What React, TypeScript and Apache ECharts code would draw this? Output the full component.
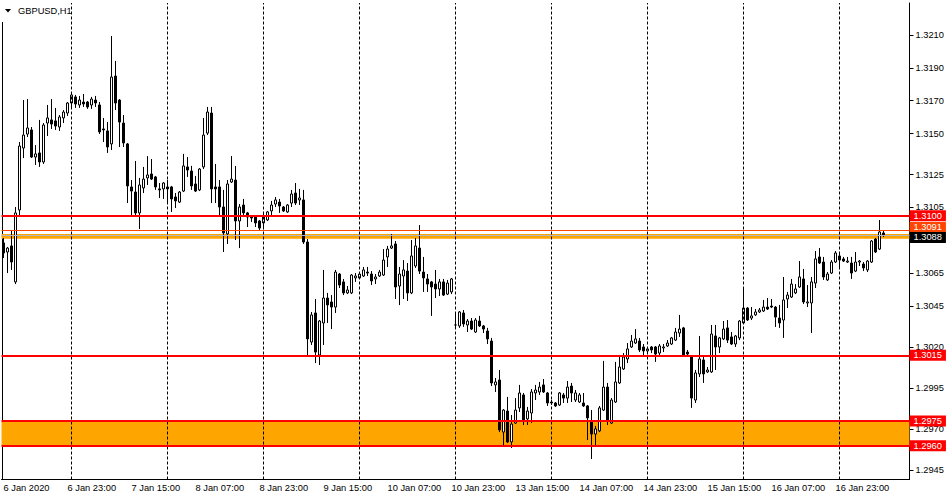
import React, { useEffect, useRef } from "react";
import * as echarts from "echarts";

// [open, close, low, high] per H1 bar, starting 6 Jan 2020 07:00
const candles: number[][] = [
  [1.30834, 1.30773, 1.30743, 1.30864],
  [1.30779, 1.30803, 1.30651, 1.3081],
  [1.30816, 1.30718, 1.3067, 1.30913],
  [1.30597, 1.31017, 1.30584, 1.31053],
  [1.31035, 1.31424, 1.31004, 1.31449],
  [1.31412, 1.31491, 1.31351, 1.31704],
  [1.31497, 1.31534, 1.31479, 1.3171],
  [1.31522, 1.31357, 1.31351, 1.3154],
  [1.31357, 1.31376, 1.31309, 1.3143],
  [1.31382, 1.31327, 1.31297, 1.31583],
  [1.31327, 1.31552, 1.31315, 1.31564],
  [1.31564, 1.31595, 1.31485, 1.31674],
  [1.31583, 1.31558, 1.31528, 1.3171],
  [1.31577, 1.31546, 1.31522, 1.31656],
  [1.3154, 1.31601, 1.31516, 1.31613],
  [1.31595, 1.31631, 1.31564, 1.31643],
  [1.31625, 1.31686, 1.31607, 1.31692],
  [1.31686, 1.31735, 1.31656, 1.31753],
  [1.31723, 1.3168, 1.31656, 1.31735],
  [1.31674, 1.31704, 1.31656, 1.31729],
  [1.31692, 1.3168, 1.31662, 1.31741],
  [1.31692, 1.31662, 1.3165, 1.31698],
  [1.31674, 1.3171, 1.3165, 1.31723],
  [1.31704, 1.31686, 1.31662, 1.31729],
  [1.31674, 1.3151, 1.31497, 1.31692],
  [1.31528, 1.31522, 1.31449, 1.31595],
  [1.31516, 1.31418, 1.31382, 1.3157],
  [1.31437, 1.31844, 1.314, 1.32094],
  [1.3185, 1.31686, 1.31643, 1.31942],
  [1.31704, 1.3157, 1.31418, 1.3171],
  [1.31564, 1.31443, 1.31418, 1.31613],
  [1.31437, 1.31181, 1.31077, 1.31443],
  [1.31175, 1.3115, 1.31004, 1.31217],
  [1.31144, 1.31017, 1.30998, 1.31333],
  [1.31017, 1.31187, 1.30919, 1.3123],
  [1.31169, 1.31223, 1.31138, 1.31297],
  [1.3123, 1.31248, 1.31187, 1.31363],
  [1.31254, 1.31223, 1.31217, 1.31345],
  [1.31236, 1.31175, 1.31157, 1.31242],
  [1.31163, 1.31157, 1.31108, 1.31199],
  [1.31163, 1.31199, 1.31102, 1.31205],
  [1.31175, 1.31163, 1.31077, 1.31217],
  [1.31175, 1.31102, 1.31023, 1.31181],
  [1.31114, 1.3109, 1.31047, 1.31138],
  [1.31083, 1.31144, 1.31077, 1.3115],
  [1.3115, 1.31303, 1.31144, 1.31376],
  [1.31297, 1.31278, 1.31236, 1.31357],
  [1.31272, 1.31181, 1.31157, 1.31303],
  [1.31193, 1.3115, 1.31144, 1.31242],
  [1.31157, 1.31284, 1.3115, 1.3129],
  [1.31297, 1.31491, 1.31284, 1.31595],
  [1.31503, 1.31631, 1.31491, 1.31662],
  [1.31625, 1.31163, 1.31077, 1.31662],
  [1.31175, 1.31163, 1.31077, 1.31315],
  [1.31175, 1.31053, 1.30998, 1.31217],
  [1.31053, 1.30895, 1.30779, 1.31157],
  [1.30889, 1.31193, 1.30828, 1.31217],
  [1.31205, 1.31223, 1.31199, 1.31363],
  [1.31217, 1.30968, 1.30852, 1.31303],
  [1.30968, 1.31053, 1.30803, 1.31071],
  [1.31065, 1.31017, 1.30992, 1.31102],
  [1.31017, 1.30992, 1.30931, 1.31023],
  [1.30998, 1.30986, 1.30962, 1.31004],
  [1.30998, 1.30956, 1.30931, 1.31004],
  [1.30968, 1.30925, 1.30907, 1.30974],
  [1.30956, 1.30992, 1.30931, 1.31023],
  [1.30974, 1.31023, 1.30968, 1.31029],
  [1.31029, 1.31065, 1.31004, 1.3109],
  [1.31071, 1.31096, 1.31053, 1.31114],
  [1.31083, 1.31059, 1.31017, 1.31102],
  [1.31053, 1.31029, 1.31023, 1.31059],
  [1.31023, 1.31065, 1.31017, 1.31071],
  [1.31077, 1.31132, 1.31053, 1.31157],
  [1.31138, 1.31077, 1.31065, 1.31199],
  [1.31096, 1.31108, 1.31065, 1.31163],
  [1.31096, 1.3084, 1.30828, 1.31157],
  [1.3084, 1.3025, 1.30152, 1.30858],
  [1.30231, 1.30396, 1.30213, 1.30414],
  [1.30408, 1.3017, 1.30103, 1.30493],
  [1.30152, 1.30359, 1.30091, 1.30365],
  [1.30347, 1.30499, 1.30213, 1.3067],
  [1.30499, 1.30457, 1.30347, 1.3053],
  [1.30475, 1.30444, 1.3031, 1.30517],
  [1.30444, 1.30657, 1.30408, 1.3067],
  [1.30645, 1.30578, 1.3056, 1.30651],
  [1.30597, 1.3053, 1.30517, 1.30615],
  [1.3053, 1.30548, 1.30523, 1.30572],
  [1.3053, 1.30639, 1.30523, 1.30645],
  [1.30621, 1.30633, 1.30597, 1.30651],
  [1.30621, 1.30645, 1.30615, 1.30657],
  [1.30633, 1.3067, 1.30627, 1.30688],
  [1.30657, 1.30651, 1.30633, 1.30688],
  [1.30645, 1.30603, 1.30578, 1.30663],
  [1.30615, 1.30627, 1.30584, 1.30645],
  [1.30633, 1.30657, 1.30627, 1.3067],
  [1.30639, 1.3073, 1.30633, 1.30797],
  [1.30749, 1.30797, 1.30688, 1.30816],
  [1.30803, 1.30816, 1.30797, 1.30889],
  [1.30828, 1.30566, 1.30493, 1.30846],
  [1.30572, 1.30645, 1.30456, 1.30688],
  [1.30633, 1.3067, 1.30493, 1.3073],
  [1.30663, 1.3053, 1.30481, 1.30712],
  [1.3053, 1.30755, 1.30523, 1.30852],
  [1.30694, 1.30816, 1.30682, 1.30864],
  [1.30803, 1.30663, 1.30645, 1.30943],
  [1.30657, 1.30621, 1.30536, 1.30749],
  [1.30615, 1.30584, 1.30536, 1.30645],
  [1.30597, 1.30566, 1.3039, 1.30603],
  [1.30584, 1.30554, 1.30499, 1.3067],
  [1.30554, 1.30597, 1.30511, 1.30615],
  [1.30597, 1.30517, 1.30511, 1.30615],
  [1.30523, 1.3059, 1.30517, 1.30609],
  [1.30536, 1.30615, 1.30523, 1.30621],
  [1.30335, 1.30335, 1.30317, 1.30408],
  [1.30329, 1.30414, 1.30317, 1.3042],
  [1.30408, 1.30341, 1.30323, 1.30426],
  [1.30335, 1.30359, 1.30292, 1.30371],
  [1.30359, 1.3031, 1.30304, 1.30377],
  [1.30292, 1.30365, 1.30286, 1.30377],
  [1.30359, 1.30329, 1.30323, 1.3039],
  [1.30329, 1.3031, 1.30286, 1.30335],
  [1.30298, 1.3025, 1.30219, 1.30317],
  [1.30237, 1.29982, 1.29963, 1.30256],
  [1.2997, 1.29988, 1.29927, 1.30012],
  [1.3, 1.29696, 1.29683, 1.30061],
  [1.29683, 1.29817, 1.29592, 1.29823],
  [1.29811, 1.29623, 1.29617, 1.29897],
  [1.29623, 1.29732, 1.29586, 1.29787],
  [1.29738, 1.29817, 1.29732, 1.2989],
  [1.2983, 1.29921, 1.29805, 1.2997],
  [1.29909, 1.29757, 1.29726, 1.29921],
  [1.29763, 1.29811, 1.29726, 1.29836],
  [1.29799, 1.29927, 1.29738, 1.29945],
  [1.29921, 1.29939, 1.29878, 1.2997],
  [1.29927, 1.29957, 1.29909, 1.29988],
  [1.2997, 1.29927, 1.29921, 1.30006],
  [1.29921, 1.2986, 1.29842, 1.29927],
  [1.29866, 1.2986, 1.29848, 1.29878],
  [1.2986, 1.29842, 1.29836, 1.29866],
  [1.29848, 1.29921, 1.29842, 1.29927],
  [1.29909, 1.2989, 1.2986, 1.29921],
  [1.2989, 1.29957, 1.2986, 1.29994],
  [1.29963, 1.29921, 1.29866, 1.29982],
  [1.29878, 1.29921, 1.29866, 1.29939],
  [1.29866, 1.29909, 1.2986, 1.29921],
  [1.2986, 1.29842, 1.29836, 1.29921],
  [1.29842, 1.29769, 1.29635, 1.29848],
  [1.29744, 1.29671, 1.29519, 1.29817],
  [1.29671, 1.29702, 1.29604, 1.2972],
  [1.2969, 1.2983, 1.29683, 1.29842],
  [1.29817, 1.29957, 1.29811, 1.30116],
  [1.29957, 1.29757, 1.29726, 1.29982],
  [1.29738, 1.29878, 1.29732, 1.2989],
  [1.29866, 1.29988, 1.2986, 1.3011],
  [1.29982, 1.30079, 1.29976, 1.3014],
  [1.30067, 1.3014, 1.30061, 1.30164],
  [1.30128, 1.30189, 1.30103, 1.30225],
  [1.30201, 1.30237, 1.30195, 1.30274],
  [1.30225, 1.3025, 1.30219, 1.3031],
  [1.30237, 1.30183, 1.3017, 1.30256],
  [1.30201, 1.30177, 1.3014, 1.30219],
  [1.30177, 1.30189, 1.30164, 1.30201],
  [1.30201, 1.30183, 1.30164, 1.30207],
  [1.30201, 1.30158, 1.3011, 1.30207],
  [1.30164, 1.30207, 1.30152, 1.30219],
  [1.30195, 1.30201, 1.3017, 1.30219],
  [1.30207, 1.30225, 1.30201, 1.30243],
  [1.30219, 1.30256, 1.30213, 1.30262],
  [1.30243, 1.30292, 1.30237, 1.30317],
  [1.30286, 1.3031, 1.30262, 1.30396],
  [1.30317, 1.30146, 1.3014, 1.30323],
  [1.3017, 1.30158, 1.3014, 1.30183],
  [1.30146, 1.2989, 1.2983, 1.30152],
  [1.29878, 1.30043, 1.2986, 1.30061],
  [1.30037, 1.30128, 1.30018, 1.30268],
  [1.30122, 1.30037, 1.29982, 1.3014],
  [1.30049, 1.30061, 1.30043, 1.30079],
  [1.30049, 1.3028, 1.30043, 1.30335],
  [1.30268, 1.30201, 1.30061, 1.30335],
  [1.30201, 1.30256, 1.30164, 1.30262],
  [1.3025, 1.3031, 1.30243, 1.30359],
  [1.30317, 1.30243, 1.30225, 1.30365],
  [1.30262, 1.30219, 1.30213, 1.30292],
  [1.30219, 1.30268, 1.30201, 1.30274],
  [1.30256, 1.30359, 1.30243, 1.30365],
  [1.30347, 1.30438, 1.30341, 1.3056],
  [1.30438, 1.30365, 1.30359, 1.30444],
  [1.30377, 1.3039, 1.30365, 1.30444],
  [1.30396, 1.30414, 1.3039, 1.30432],
  [1.30414, 1.30426, 1.30408, 1.30438],
  [1.3042, 1.30444, 1.30414, 1.30487],
  [1.30444, 1.30432, 1.30426, 1.30499],
  [1.3045, 1.30444, 1.30438, 1.30493],
  [1.30444, 1.30383, 1.30323, 1.3045],
  [1.30377, 1.30347, 1.30317, 1.30457],
  [1.30365, 1.30487, 1.30256, 1.30627],
  [1.30493, 1.30517, 1.30438, 1.30536],
  [1.30505, 1.30584, 1.30499, 1.30615],
  [1.3053, 1.30554, 1.30523, 1.30584],
  [1.30566, 1.30627, 1.3056, 1.30724],
  [1.30615, 1.30475, 1.30463, 1.30676],
  [1.30469, 1.30475, 1.30444, 1.30578],
  [1.30469, 1.30597, 1.30286, 1.30627],
  [1.3059, 1.30737, 1.3056, 1.30785],
  [1.30749, 1.30712, 1.30706, 1.30803],
  [1.30718, 1.30627, 1.30609, 1.30749],
  [1.30609, 1.30645, 1.30603, 1.30657],
  [1.30651, 1.30718, 1.30645, 1.3073],
  [1.30718, 1.30773, 1.30712, 1.30785],
  [1.30755, 1.3073, 1.30682, 1.30779],
  [1.30737, 1.30724, 1.30718, 1.30749],
  [1.30718, 1.30724, 1.30712, 1.30749],
  [1.30712, 1.30651, 1.30615, 1.30749],
  [1.30663, 1.30718, 1.30657, 1.30779],
  [1.30718, 1.30724, 1.30694, 1.3073],
  [1.30706, 1.30682, 1.30663, 1.30718],
  [1.3067, 1.30724, 1.30657, 1.3073],
  [1.30718, 1.30846, 1.30712, 1.30852],
  [1.30858, 1.30779, 1.30773, 1.30864],
  [1.30797, 1.30901, 1.30791, 1.30974],
  [1.30895, 1.3088, 1.3087, 1.30907],
];

const xTickLabels = [
  "6 Jan 2020", "6 Jan 23:00", "7 Jan 15:00", "8 Jan 07:00", "8 Jan 23:00",
  "9 Jan 15:00", "10 Jan 07:00", "10 Jan 23:00", "13 Jan 15:00", "14 Jan 07:00",
  "14 Jan 23:00", "15 Jan 15:00", "16 Jan 07:00", "16 Jan 23:00",
];
const xTickEvery = 16;
const yTickValues = [
  1.2945, 1.297, 1.2995, 1.302, 1.3045, 1.3065, 1.3085, 1.3105, 1.3125, 1.315, 1.317, 1.319, 1.321,
];
const daySeparatorBars = [17, 41, 65, 89, 113, 137, 161, 185, 209];
const redLevels = [1.31, 1.3015, 1.2975, 1.296];
const supportZone = [1.2975, 1.296];
const pivotZone = [1.30889, 1.3086];
const pivotLine = 1.3091;
const bidPrice = 1.3088;
const emptyBarsRight = 6;
const priceMin = 1.293943;
const priceMax = 1.322947;

const categories: string[] = (() => {
  const out: string[] = [];
  let day = 6;
  let hour = 7;
  for (let i = 0; i < candles.length + emptyBarsRight; i++) {
    out.push(`${day} Jan ${String(hour).padStart(2, "0")}:00`);
    hour++;
    if (hour === 24) {
      hour = 0;
      day++;
      if (day === 11) day = 13;
      if (day === 18) day = 20;
    }
  }
  return out;
})();

const FONT = "'Liberation Sans', Arial, sans-serif";
const FS = 9.3;

function levelLabel(text: string, bg: string, offsetY = 0) {
  return {
    show: true,
    position: "end",
    distance: 0,
    formatter: text,
    color: "#fff",
    backgroundColor: bg,
    padding: [1, 4, 1, 4],
    fontSize: FS,
    fontFamily: FONT,
    offset: [0, offsetY],
  };
}

export default function App() {
  const ref = useRef<HTMLDivElement>(null);

  useEffect(() => {
    if (!ref.current) return;
    const chart = echarts.init(ref.current, undefined, { renderer: "svg" });
    const option: any = {
      animation: false,
      backgroundColor: "#ffffff",
      grid: { left: 1.5, right: 40.5, top: 3, bottom: 20.5, containLabel: false },
      xAxis: {
        type: "category",
        data: categories,
        boundaryGap: true,
        axisLine: { show: true, lineStyle: { color: "#000", width: 1 } },
        axisTick: { show: false },
        splitLine: { show: false },
        axisLabel: {
          interval: (index: number) =>
            index % xTickEvery === 0 && index / xTickEvery < xTickLabels.length,
          formatter: (_v: string, index: number) => xTickLabels[index / xTickEvery] ?? "",
          align: "left",
          margin: 4,
          color: "#000",
          fontSize: FS,
          fontFamily: FONT,
        },
      },
      yAxis: {
        type: "value",
        position: "right",
        min: priceMin,
        max: priceMax,
        axisLine: { show: true, lineStyle: { color: "#000", width: 1 } },
        axisTick: {
          show: true,
          length: 4,
          customValues: yTickValues,
          lineStyle: { color: "#000" },
        },
        axisLabel: {
          customValues: yTickValues,
          formatter: (v: number) => v.toFixed(4),
          margin: 6,
          color: "#000",
          fontSize: FS,
          fontFamily: FONT,
          align: "left",
        },
        splitLine: { show: false },
      },
      series: [
        {
          type: "line",
          data: [],
          z: 1,
          silent: true,
          markArea: {
            silent: true,
            precision: 6,
            itemStyle: { color: "#FFA500" },
            data: [
              [{ yAxis: supportZone[0] }, { yAxis: supportZone[1] }],
              [{ yAxis: pivotZone[0] }, { yAxis: pivotZone[1] }],
            ],
          },
        },
        {
          type: "line",
          data: [],
          z: 2,
          silent: true,
          markLine: {
            silent: true,
            symbol: ["none", "none"],
            label: { show: false },
            lineStyle: { color: "#000", type: [3, 2], width: 1 },
            data: daySeparatorBars.map((b) => ({ xAxis: categories[b] })),
          },
        },
        {
          type: "candlestick",
          name: "GBPUSD,H1",
          data: candles,
          z: 3,
          barWidth: 2,
          itemStyle: {
            color: "#ffffff",
            color0: "#000000",
            borderColor: "#000000",
            borderColor0: "#000000",
            borderColorDoji: "#000000",
            borderWidth: 1,
          },
        },
        {
          type: "line",
          data: [],
          z: 4,
          silent: true,
          markLine: {
            silent: true,
            precision: 6,
            symbol: ["none", "none"],
            data: [
              ...redLevels.map((v) => ({
                yAxis: v,
                lineStyle: { color: "#FF0000", width: 2, type: "solid" },
                label: levelLabel(v.toFixed(4), "#FF0000"),
              })),
              {
                yAxis: pivotLine,
                lineStyle: { color: "#FF4500", width: 1, type: "solid" },
                label: levelLabel(pivotLine.toFixed(4), "#FF4500", -3),
              },
              {
                yAxis: bidPrice,
                lineStyle: { color: "#AEB8C4", width: 1, type: "solid" },
                label: levelLabel(bidPrice.toFixed(4), "#000000", 2),
              },
            ],
          },
        },
      ],
      graphic: [
        {
          type: "polyline",
          silent: true,
          z: 0,
          shape: { points: [[2.5, 22], [2.5, 479.5], [909.5, 479.5], [909.5, 3]] },
          style: { fill: "none", stroke: "#000", lineWidth: 1 },
        },
        {
          type: "polygon",
          silent: true,
          z: 10,
          shape: { points: [[5, 9], [11, 9], [8, 12.5]] },
          style: { fill: "#000" },
        },
        {
          type: "text",
          silent: true,
          z: 10,
          x: 18,
          y: 11,
          style: {
            text: "GBPUSD,H1",
            fill: "#000",
            font: `${FS}px ${FONT}`,
            verticalAlign: "middle",
          },
        },
      ],
    };
    chart.setOption(option);
    return () => chart.dispose();
  }, []);

  return (
    <div
      ref={ref}
      style={{ position: "fixed", left: 0, top: 0, width: 950, height: 500, background: "#fff" }}
    />
  );
}
